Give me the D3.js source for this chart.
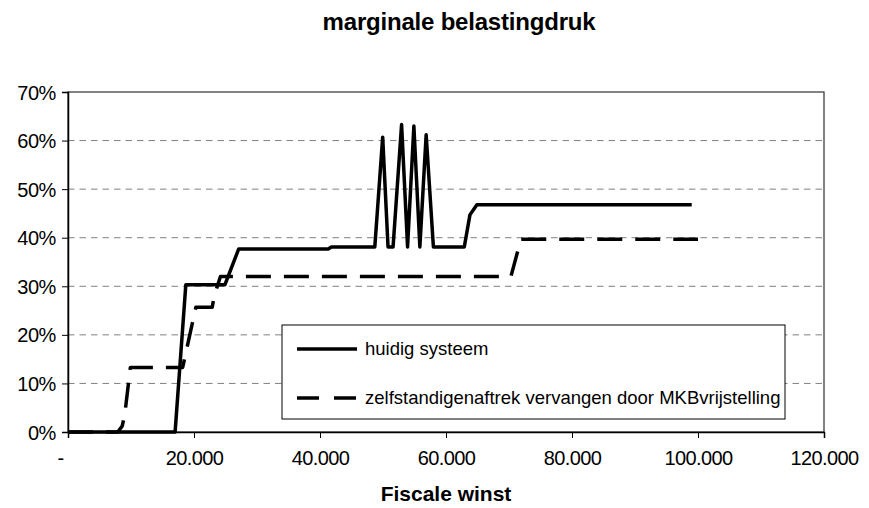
<!DOCTYPE html>
<html><head><meta charset="utf-8">
<script src="https://cdn.jsdelivr.net/npm/d3@7"></script>
<style>
html,body{margin:0;padding:0;background:#fff;}
text{font-family:"Liberation Sans",Arial,sans-serif;fill:#000;}
</style></head>
<body>
<svg id="chart" width="869" height="508"></svg>
<script>
// ---- data ----
const title = "marginale belastingdruk";
const xAxisTitle = "Fiscale winst";
const seriesNames = ["huidig systeem", "zelfstandigenaftrek vervangen door MKBvrijstelling"];
const xTicks = [0, 20000, 40000, 60000, 80000, 100000, 120000];
const yTicks = [0, 10, 20, 30, 40, 50, 60, 70];

// huidig systeem (winst in euro, druk in %)
const huidigX = [0, 17000, 18700, 24900, 27100, 41300, 41800, 48700, 49950, 50800, 51600, 52950, 53900, 54900, 55850, 56850, 58000, 62900, 63800, 64900, 99000];
const huidigY = [0, 0, 30.3, 30.3, 37.7, 37.7, 38.1, 38.1, 60.7, 38.1, 38.1, 63.3, 38.1, 63.0, 38.1, 61.2, 38.1, 38.1, 44.7, 46.8, 46.8];

// zelfstandigenaftrek vervangen door MKBvrijstelling
const mkbX = [0, 7900, 8600, 9000, 9900, 18200, 20300, 22900, 23200, 24200, 70300, 71900, 100000];
const mkbY = [0, 0, 1.2, 3.5, 13.3, 13.3, 25.7, 25.7, 28.0, 32.0, 32.0, 39.7, 39.7];

// ---- layout ----
const svg = d3.select("#chart");
const L = 68, R = 824, T = 92, B = 432;
const x = d3.scaleLinear().domain([0, 120000]).range([L, R]);
const y = d3.scaleLinear().domain([0, 70]).range([B, T]);

// title
svg.append("text").attr("x", 459).attr("y", 30).attr("text-anchor", "middle")
  .style("font-weight", "bold").style("font-size", "24px").style("letter-spacing", "-0.2px").text(title);

// gridlines
svg.append("g").selectAll("line").data(yTicks.filter(d => d > 0 && d < 70)).join("line")
  .attr("x1", L).attr("x2", R).attr("y1", d => y(d)).attr("y2", d => y(d))
  .attr("stroke", "#808080").attr("stroke-width", 1).attr("stroke-dasharray", "6.5,5");

// plot border
svg.append("rect").attr("x", L).attr("y", T).attr("width", R - L).attr("height", B - T)
  .attr("fill", "none").attr("stroke", "#404040").attr("stroke-width", 1.3);

// y axis
const yAxis = d3.axisLeft(y).tickValues(yTicks).tickSize(6).tickPadding(6).tickFormat(d => d + "%");
const gy = svg.append("g").attr("transform", `translate(${L},0)`).call(yAxis);
gy.select(".domain").attr("stroke", "#000").attr("stroke-width", 1.5);
gy.selectAll(".tick line").attr("stroke", "#000");
gy.selectAll("text").style("font-size", "20px").style("letter-spacing", "-0.4px")
  .attr("dy", "0.35em").attr("fill", "#000");

// x axis
const xAxis = d3.axisBottom(x).tickValues(xTicks).tickSize(6).tickPadding(13)
  .tickFormat(d => d === 0 ? "-" : d3.format(",")(d).replace(/,/g, "."));
const gx = svg.append("g").attr("transform", `translate(0,${B})`).call(xAxis);
gx.select(".domain").attr("stroke", "#000").attr("stroke-width", 1.5);
gx.selectAll(".tick line").attr("stroke", "#000");
gx.selectAll("text").style("font-size", "20px").style("letter-spacing", "-0.6px").attr("fill", "#000")
  .attr("dx", d => d === 0 ? "-8px" : 0);

// x axis title
svg.append("text").attr("x", 446).attr("y", 501).attr("text-anchor", "middle")
  .style("font-weight", "bold").style("font-size", "21px").text(xAxisTitle);

// lines
const line = d3.line().x(d => x(d[0])).y(d => y(d[1]));
const huidig = huidigX.map((v, i) => [v, huidigY[i]]);
const mkb = mkbX.map((v, i) => [v, mkbY[i]]);

svg.append("path").datum(mkb).attr("d", line).attr("fill", "none")
  .attr("stroke", "#000").attr("stroke-width", 3.5).attr("stroke-dasharray", "25,13")
  .attr("stroke-linejoin", "round");
svg.append("path").datum(huidig).attr("d", line).attr("fill", "none")
  .attr("stroke", "#000").attr("stroke-width", 3.5).attr("stroke-linejoin", "round");

// legend
const lg = svg.append("g");
lg.append("rect").attr("x", 282).attr("y", 325).attr("width", 503).attr("height", 94)
  .attr("fill", "#fff").attr("stroke", "#000").attr("stroke-width", 1);
const items = [{name: seriesNames[0], dash: null, yy: 349}, {name: seriesNames[1], dash: "22,15", yy: 398}];
items.forEach(it => {
  lg.append("line").attr("x1", 297).attr("x2", 357).attr("y1", it.yy).attr("y2", it.yy)
    .attr("stroke", "#000").attr("stroke-width", 3.5).attr("stroke-dasharray", it.dash);
  lg.append("text").attr("x", 365).attr("y", it.yy).attr("dy", "0.35em")
    .style("font-size", "18.5px").text(it.name);
});
</script>
</body></html>
